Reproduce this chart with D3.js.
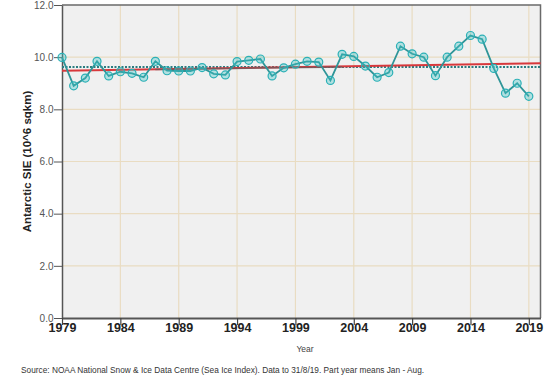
<!DOCTYPE html>
<html>
<head>
<meta charset="utf-8">
<script src="https://cdn.jsdelivr.net/npm/d3@7"></script>
<style>
  body { margin: 0; background: #fff; }
  svg { display: block; font-family: "Liberation Sans", Arial, sans-serif; }
</style>
</head>
<body>
<svg></svg>
<script>
// data (annual mean Antarctic sea ice extent, 10^6 sqkm)
var years = d3.range(1979, 2020);
var sie = [9.99, 8.9, 9.2, 9.84, 9.28, 9.44, 9.38, 9.23, 9.84, 9.48,
  9.47, 9.47, 9.6, 9.36, 9.32, 9.83, 9.88, 9.93, 9.28, 9.59,
  9.73, 9.84, 9.81, 9.11, 10.11, 10.03, 9.66, 9.23, 9.41, 10.42,
  10.13, 10.0, 9.29, 10.0, 10.42, 10.83, 10.69, 9.57, 8.62, 9.0, 8.5];
var trend = [[1979, 9.48], [2020, 9.77]];
var smooth = [[1987, 9.53], [1995, 9.58], [2003, 9.62]];
var meanVal = 9.62;
var yTicks = [0, 2, 4, 6, 8, 10, 12];
var xTicks = [1979, 1984, 1989, 1994, 1999, 2004, 2009, 2014, 2019];

var width = 550, height = 384;
var svg = d3.select("svg").attr("width", width).attr("height", height);

var x = d3.scaleLinear().domain([1979, 2020]).range([62, 540.5]);
var y = d3.scaleLinear().domain([0, 12]).range([318, 5]);

// plot background
svg.append("rect")
  .attr("x", x(1979)).attr("y", y(12))
  .attr("width", x(2020) - x(1979)).attr("height", y(0) - y(12))
  .attr("fill", "#f0f0f0");

// grid
svg.append("g").selectAll("line")
  .data(yTicks.filter(function(d) { return d > 0 && d < 12; }))
  .enter().append("line")
  .attr("x1", x(1979)).attr("x2", x(2020))
  .attr("y1", function(d) { return y(d); })
  .attr("y2", function(d) { return y(d); })
  .attr("stroke", "#e9dcc2").attr("stroke-width", 1.2);
svg.append("g").selectAll("line")
  .data(xTicks.slice(1))
  .enter().append("line")
  .attr("x1", function(d) { return x(d); })
  .attr("x2", function(d) { return x(d); })
  .attr("y1", y(0)).attr("y2", y(12))
  .attr("stroke", "#e9dcc2").attr("stroke-width", 1.2);

// frame (top / right)
svg.append("path")
  .attr("d", "M" + x(1979) + "," + y(12) + "H" + x(2020) + "V" + y(0))
  .attr("fill", "none").attr("stroke", "#6a6a6a").attr("stroke-width", 1.5);

// axes
var yAxis = svg.append("g")
  .attr("transform", "translate(" + x(1979) + ",0)")
  .call(d3.axisLeft(y).tickValues(yTicks).tickFormat(d3.format(".1f")).tickSize(8).tickSizeOuter(0));
yAxis.select(".domain").attr("stroke", "#555").attr("stroke-width", 1.5);
yAxis.selectAll(".tick line").attr("stroke", "#555");
yAxis.selectAll("text").attr("fill", "#555").attr("font-size", 10).attr("x", -8.5);

var xAxis = svg.append("g")
  .attr("transform", "translate(0," + y(0) + ")")
  .call(d3.axisBottom(x).tickValues(xTicks).tickFormat(d3.format("d")).tickSize(7).tickSizeOuter(0));
xAxis.select(".domain").attr("stroke", "#555").attr("stroke-width", 2);
xAxis.selectAll(".tick line").attr("stroke", "#444").attr("stroke-width", 1.2);
xAxis.selectAll("text").attr("fill", "#222").attr("font-size", 12.5)
  .attr("font-weight", "bold").attr("y", 5);

// mean (dotted) and trend lines
svg.append("line")
  .attr("x1", x(1979)).attr("x2", x(2020))
  .attr("y1", y(meanVal)).attr("y2", y(meanVal))
  .attr("stroke", "#2a7c80").attr("stroke-width", 2)
  .attr("stroke-dasharray", "2,1.5");

var line = d3.line()
  .x(function(d) { return x(d[0]); })
  .y(function(d) { return y(d[1]); });

svg.append("path").datum(trend)
  .attr("d", line)
  .attr("fill", "none").attr("stroke", "#d8383c").attr("stroke-width", 2);

svg.append("path").datum(smooth)
  .attr("d", line.curve(d3.curveBasis))
  .attr("fill", "none").attr("stroke", "#6b5a5e").attr("stroke-width", 1.5).attr("opacity", 0.8);
line.curve(d3.curveLinear);

// series
var pts = years.map(function(yr, i) { return [yr, sie[i]]; });
svg.append("path").datum(pts)
  .attr("d", line)
  .attr("fill", "none").attr("stroke", "#2f9598").attr("stroke-width", 1.8);

svg.append("g").selectAll("circle")
  .data(pts)
  .enter().append("circle")
  .attr("cx", function(d) { return x(d[0]); })
  .attr("cy", function(d) { return y(d[1]); })
  .attr("r", 4)
  .attr("fill", "#3cc3c6").attr("fill-opacity", 0.35)
  .attr("stroke", "#2bb0b6").attr("stroke-width", 1.2);

// labels
svg.append("text")
  .attr("transform", "translate(31," + (y(6) + 0) + ") rotate(-90)")
  .attr("text-anchor", "middle")
  .attr("font-size", 11.5).attr("font-weight", "bold").attr("fill", "#222")
  .text("Antarctic SIE (10^6 sqkm)");

svg.append("text")
  .attr("x", 305).attr("y", 352)
  .attr("text-anchor", "middle")
  .attr("font-size", 8.5).attr("fill", "#444")
  .text("Year");

svg.append("text")
  .attr("x", 21).attr("y", 373)
  .attr("font-size", 8.3).attr("fill", "#333")
  .text("Source: NOAA National Snow & Ice Data Centre (Sea Ice Index). Data to 31/8/19. Part year means Jan - Aug.");
</script>
</body>
</html>
